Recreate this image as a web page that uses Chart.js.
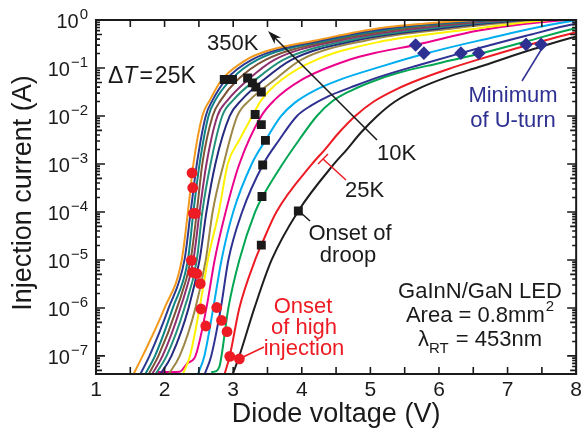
<!DOCTYPE html>
<html>
<head>
<meta charset="utf-8">
<script src="https://cdn.jsdelivr.net/npm/chart.js@4.4.1/dist/chart.umd.min.js"></script>
<style>
  html, body { margin: 0; padding: 0; background: #fff; }
</style>
</head>
<body>
<canvas id="myChart" width="586" height="436"></canvas>
<script>
// temperatures, hot to cold (left to right on the plot)
const temps = ["350K", "325K", "300K", "275K", "250K", "225K", "200K", "175K",
  "150K", "125K", "100K", "75K", "50K", "25K", "10K"];

// [voltage (V), current (A)]
const k350 = [[1.54,4e-8],[1.68,1e-7],[2.00,1e-6],[2.25,1e-5],[2.34,1e-4],[2.42,1e-3],[2.55,0.01],[2.66,0.0214],[2.83,0.056],[3.19,0.148],[3.48,0.224],[4.22,0.38],[5.12,0.676],[6.00,0.89],[6.58,1.0],[8.3,1.15]];
const k325 = [[1.64,4e-8],[1.78,1e-7],[2.06,1e-6],[2.29,1e-5],[2.38,1e-4],[2.47,1e-3],[2.60,0.01],[2.70,0.0214],[2.89,0.056],[3.27,0.148],[4.30,0.38],[5.25,0.676],[6.69,1.0],[8.3,1.15]];
const k300 = [[1.71,4e-8],[1.86,1e-7],[2.12,1e-6],[2.34,1e-5],[2.42,1e-4],[2.51,1e-3],[2.64,0.01],[2.74,0.0214],[2.96,0.056],[3.35,0.148],[4.37,0.38],[5.39,0.676],[6.79,1.0],[8.3,1.15]];
const k275 = [[1.76,4e-8],[1.91,1e-7],[2.18,1e-6],[2.38,1e-5],[2.47,1e-4],[2.55,1e-3],[2.70,0.01],[2.82,0.0214],[3.06,0.056],[3.47,0.148],[4.47,0.38],[5.53,0.676],[6.90,1.0],[8.3,1.15]];
const k250 = [[1.81,4e-8],[1.97,1e-7],[2.23,1e-6],[2.42,1e-5],[2.51,1e-4],[2.61,1e-3],[2.77,0.01],[2.92,0.0214],[3.21,0.056],[3.60,0.148],[4.57,0.38],[5.71,0.676],[7.01,1.0],[8.3,1.15]];
const k225 = [[1.86,4e-8],[2.03,1e-7],[2.29,1e-6],[2.47,1e-5],[2.55,1e-4],[2.67,1e-3],[2.84,0.01],[3.00,0.0214],[3.32,0.056],[3.73,0.148],[4.69,0.38],[5.88,0.676],[7.13,1.0],[8.3,1.15]];
const k200 = [[1.93,4e-8],[2.10,1e-7],[2.35,1e-6],[2.51,1e-5],[2.61,1e-4],[2.74,1e-3],[2.95,0.01],[3.12,0.0214],[3.44,0.056],[3.85,0.148],[4.80,0.38],[6.04,0.676],[7.24,1.0],[8.3,1.15]];
const k175 = [[2.05,4e-8],[2.22,1e-7],[2.45,1e-6],[2.60,1e-5],[2.70,1e-4],[2.86,1e-3],[3.06,0.01],[3.24,0.0214],[3.60,0.056],[3.99,0.148],[4.95,0.38],[6.23,0.676],[7.39,1.0],[8.3,1.15]];
const k150 = [[2.26,4e-8],[2.37,1e-7],[2.51,1e-6],[2.63,1e-5],[2.79,1e-4],[2.92,1e-3],[3.09,3.16e-3],[3.29,0.0107],[3.41,0.0214],[3.70,0.056],[4.21,0.148],[5.12,0.347],[6.43,0.631],[7.62,1.0],[8.3,1.08]];
const k125 = [[1.89,4.6e-8],[2.22,4.7e-8],[2.33,7e-8],[2.45,1e-7],[2.61,1e-6],[2.73,1e-5],[2.89,1e-4],[3.09,1e-3],[3.41,0.01],[3.60,0.0214],[3.99,0.056],[4.69,0.148],[5.12,0.214],[5.66,0.302],[6.58,0.603],[7.85,1.0],[8.3,1.04]];
const k100 = [[2.48,4e-8],[2.58,1e-7],[2.71,1e-6],[2.83,1e-5],[3.00,1e-4],[3.27,1e-3],[3.47,3.1e-3],[3.70,0.01],[3.90,0.019],[4.17,0.0331],[4.54,0.056],[5.20,0.112],[5.78,0.195],[6.58,0.372],[7.99,0.977],[8.3,1.04]];
const k75 = [[2.58,4e-8],[2.68,1e-7],[2.82,1e-6],[2.93,1e-5],[3.13,1e-4],[3.44,1e-3],[3.67,3.16e-3],[3.93,0.01],[4.14,0.0166],[4.40,0.0263],[4.72,0.0398],[5.12,0.0646],[5.75,0.12],[6.32,0.204],[7.27,0.468],[7.99,0.832],[8.3,0.95]];
const k50 = [[2.68,4.6e-8],[2.75,4.8e-8],[2.80,6e-8],[2.83,1e-7],[2.93,1e-6],[3.09,1e-5],[3.32,1e-4],[3.43,2.1e-4],[3.72,1e-3],[3.96,3.16e-3],[4.22,0.01],[4.44,0.02],[4.72,0.0339],[5.05,0.0537],[5.41,0.0794],[6.00,0.126],[6.58,0.195],[7.27,0.355],[7.99,0.676],[8.3,0.8]];
const k25 = [[2.87,4e-8],[2.95,1e-7],[3.09,1e-6],[3.32,1e-5],[3.41,2.04e-5],[3.63,1e-4],[4.15,1e-3],[4.33,1.95e-3],[4.54,4.47e-3],[4.78,0.01],[5.05,0.02],[5.37,0.0355],[5.75,0.0603],[6.14,0.0955],[6.58,0.151],[7.30,0.302],[7.99,0.55],[8.3,0.68]];
const k10 = [[2.99,4e-8],[3.09,1e-7],[3.31,1e-6],[3.56,1e-5],[3.95,1.05e-4],[4.47,1e-3],[4.65,1.95e-3],[4.86,4.47e-3],[5.10,0.01],[5.36,0.02],[5.75,0.0398],[6.14,0.066],[6.58,0.105],[7.39,0.251],[7.99,0.447],[8.3,0.55]];

const curves = [k350, k325, k300, k275, k250, k225, k200, k175, k150, k125, k100, k75, k50, k25, k10];
const curveColors = ["#F39A1E", "#2B3990", "#0F8383", "#7E5538", "#8E2F6E", "#23907C", "#262B7E", "#9C8747",
  "#FFF200", "#EC008C", "#00AEEF", "#2E3192", "#00A651", "#ED1C24", "#1E1E1E"];

// onset of droop (black squares)
const droopV = [2.87, 2.93, 2.99, 3.21, 3.28, 3.33, 3.41, 3.32, 3.41, 3.47, 3.43, 3.42, 3.41, 3.95];
const droopI = [0.0575, 0.0575, 0.0575, 0.0617, 0.049, 0.040, 0.0316, 0.0107, 0.0066, 0.0031, 9.5e-4, 2.1e-4, 2.04e-5, 1.05e-4];

// onset of high injection (red dots)
const injV = [2.40, 2.41, 2.42, 2.45, 2.39, 2.41, 2.47, 2.52, 2.53, 2.76, 2.60, 2.83, 2.91, 2.95, 3.09];
const injI = [6.5e-4, 3.2e-4, 9.3e-5, 9.3e-5, 9.8e-6, 5.5e-6, 5.2e-6, 3.2e-6, 9.5e-7, 1.02e-6, 4.2e-7, 5.5e-7, 3.2e-7, 9.8e-8, 8.7e-8];

// minimum of U-turn (blue diamonds)
const uturnV = [5.66, 5.78, 6.32, 6.58, 7.27, 7.49];
const uturnI = [0.302, 0.204, 0.204, 0.204, 0.31, 0.31];

const voltTicks = [1, 2, 3, 4, 5, 6, 7, 8];
const currentDecades = [0, -1, -2, -3, -4, -5, -6, -7];

const FONT = '"Liberation Sans", Arial, Helvetica, sans-serif';
const INK = "#1a1a1a";
const NAVY = "#2E3192";
const RED = "#ED1C24";

function toPoints(xs, ys) {
  return xs.map((x, i) => ({ x: x, y: ys[i] }));
}

function font(size, style) {
  return (style ? style + " " : "") + size + "px " + FONT;
}

function text(ctx, str, x, y, size, color, align) {
  ctx.font = font(size);
  ctx.fillStyle = color;
  ctx.textAlign = align || "left";
  ctx.textBaseline = "alphabetic";
  ctx.fillText(str, x, y);
}

function line(ctx, x1, y1, x2, y2, color, w) {
  ctx.strokeStyle = color;
  ctx.lineWidth = w || 1.5;
  ctx.beginPath();
  ctx.moveTo(x1, y1);
  ctx.lineTo(x2, y2);
  ctx.stroke();
}

const decor = {
  id: "decor",
  afterDraw(chart) {
    const ctx = chart.ctx;
    const a = chart.chartArea;
    const xs = chart.scales.x;
    const ys = chart.scales.y;
    ctx.save();

    // frame
    ctx.strokeStyle = INK;
    ctx.lineWidth = 2;
    ctx.strokeRect(a.left, a.top, a.right - a.left, a.bottom - a.top);

    // inward ticks, x every 0.5 V
    ctx.lineWidth = 1.6;
    ctx.beginPath();
    for (let v = xs.min; v <= xs.max + 1e-9; v += 0.5) {
      const x = xs.getPixelForValue(v);
      ctx.moveTo(x, a.bottom); ctx.lineTo(x, a.bottom - 7);
      ctx.moveTo(x, a.top); ctx.lineTo(x, a.top + 7);
    }
    ctx.stroke();

    // inward ticks, y log
    ctx.beginPath();
    for (let n = -8; n <= 0; n++) {
      for (let m = 1; m <= 9; m++) {
        const val = m * Math.pow(10, n);
        if (val < ys.min || val > ys.max * 1.0001) continue;
        const y = ys.getPixelForValue(val);
        const len = m === 1 ? 9 : (m === 5 ? 6 : 4);
        ctx.moveTo(a.left, y); ctx.lineTo(a.left + len, y);
        ctx.moveTo(a.right, y); ctx.lineTo(a.right - len, y);
      }
    }
    ctx.stroke();

    // y tick labels 10^n
    currentDecades.forEach(n => {
      const y = ys.getPixelForValue(Math.pow(10, n));
      const exp = n === 0 ? "0" : "\u2212" + (-n);
      ctx.font = font(15);
      const ew = ctx.measureText(exp).width;
      ctx.font = font(20);
      const bw = ctx.measureText("10").width;
      const x0 = a.left - 8 - ew - bw - 1;
      text(ctx, "10", x0, y + 8, 20, INK);
      text(ctx, exp, x0 + bw + 1, y - 1, 15, INK);
    });

    // axis titles
    text(ctx, "Diode voltage (V)", (a.left + a.right) / 2, 422, 27, INK, "center");
    ctx.save();
    ctx.translate(31, (a.top + a.bottom) / 2 - 4);
    ctx.rotate(-Math.PI / 2);
    text(ctx, "Injection current (A)", 0, 0, 27, INK, "center");
    ctx.restore();

    // temperature arrow
    const tx = 268, ty = 31, sx = 377, sy = 140;
    line(ctx, sx, sy, tx + 6, ty + 6, INK, 1.6);
    const ang = Math.atan2(ty - sy, tx - sx);
    ctx.fillStyle = INK;
    ctx.beginPath();
    ctx.moveTo(tx, ty);
    ctx.lineTo(tx - 14 * Math.cos(ang) + 4.5 * Math.sin(ang), ty - 14 * Math.sin(ang) - 4.5 * Math.cos(ang));
    ctx.lineTo(tx - 10 * Math.cos(ang), ty - 10 * Math.sin(ang));
    ctx.lineTo(tx - 14 * Math.cos(ang) - 4.5 * Math.sin(ang), ty - 14 * Math.sin(ang) + 4.5 * Math.cos(ang));
    ctx.closePath();
    ctx.fill();

    text(ctx, "350K", 207, 50, 22, INK);
    text(ctx, "10K", 377, 160, 22, INK);
    text(ctx, "25K", 345, 197, 22, INK);
    line(ctx, 323, 159, 346, 180, RED, 1.5);
    line(ctx, 318, 164, 328, 154, RED, 1.5);

    // Delta T = 25K
    let x = 108;
    ctx.font = font(23); ctx.fillStyle = INK; ctx.textAlign = "left";
    ctx.fillText("\u0394", x, 83); x += ctx.measureText("\u0394").width;
    ctx.font = font(23, "italic");
    ctx.fillText("T", x, 83); x += ctx.measureText("T").width + 2;
    ctx.font = font(23);
    ctx.fillText("=", x, 83); x += ctx.measureText("=").width + 2;
    ctx.fillText("25K", x, 83);

    // onset of droop
    text(ctx, "Onset of", 350, 240, 22, INK, "center");
    text(ctx, "droop", 348, 262, 22, INK, "center");
    line(ctx, 300, 212, 310, 221, INK, 1.5);

    // onset of high injection
    text(ctx, "Onset", 303, 313, 22, RED, "center");
    text(ctx, "of high", 304, 334, 22, RED, "center");
    text(ctx, "injection", 304, 355, 22, RED, "center");
    line(ctx, 241, 358, 264, 347, RED, 1.5);

    // minimum of U-turn
    text(ctx, "Minimum", 513, 102, 22, NAVY, "center");
    text(ctx, "of U-turn", 513, 127, 22, NAVY, "center");
    line(ctx, 541, 50, 522, 81, NAVY, 1.5);

    // device info
    const cx = 480;
    text(ctx, "GaInN/GaN LED", cx, 298, 22, INK, "center");
    ctx.font = font(22);
    const wA = ctx.measureText("Area = 0.8mm").width;
    ctx.font = font(15);
    const wS = ctx.measureText("2").width;
    let ax = cx - (wA + wS + 1) / 2;
    text(ctx, "Area = 0.8mm", ax, 322, 22, INK);
    text(ctx, "2", ax + wA + 1, 311, 15, INK);
    ctx.font = font(22);
    const wL = ctx.measureText("\u03bb").width;
    const wE = ctx.measureText(" = 453nm").width;
    ctx.font = font(15);
    const wR = ctx.measureText("RT").width;
    let lx = cx - (wL + wR + wE + 1) / 2;
    text(ctx, "\u03bb", lx, 346, 22, INK);
    text(ctx, "RT", lx + wL, 353, 15, INK);
    text(ctx, " = 453nm", lx + wL + wR + 1, 346, 22, INK);

    ctx.restore();
  }
};

document.addEventListener("DOMContentLoaded", function () {
  const ctx = document.getElementById("myChart").getContext("2d");

  const curveSets = curves.map((pts, i) => ({
    label: temps[i],
    data: pts.map(p => ({ x: p[0], y: p[1] })),
    borderColor: curveColors[i],
    backgroundColor: curveColors[i],
    borderWidth: 2,
    pointRadius: 0,
    fill: false,
    cubicInterpolationMode: "monotone",
    order: 2
  }));

  const markerSets = [
    {
      label: "Onset of droop",
      data: toPoints(droopV, droopI),
      showLine: false,
      pointStyle: "rect",
      pointRadius: 6.3,
      pointBackgroundColor: INK,
      pointBorderWidth: 0,
      order: 0
    },
    {
      label: "Onset of high injection",
      data: toPoints(injV, injI),
      showLine: false,
      pointStyle: "circle",
      pointRadius: 5.4,
      pointBackgroundColor: RED,
      pointBorderWidth: 0,
      order: 0
    },
    {
      label: "Minimum of U-turn",
      data: toPoints(uturnV, uturnI),
      showLine: false,
      pointStyle: "rectRot",
      pointRadius: 6.8,
      pointBackgroundColor: NAVY,
      pointBorderWidth: 0,
      order: 0
    }
  ];

  new Chart(ctx, {
    type: "line",
    data: { datasets: markerSets.concat(curveSets) },
    options: {
      responsive: false,
      animation: false,
      layout: { padding: { top: 20, right: 6, left: 0, bottom: 0 } },
      plugins: { legend: { display: false }, tooltip: { enabled: false } },
      scales: {
        x: {
          type: "linear",
          min: 1,
          max: 8,
          grid: { display: false, drawTicks: false },
          border: { display: false },
          ticks: {
            stepSize: 0.5,
            autoSkip: false,
            maxRotation: 0,
            padding: 4,
            color: INK,
            font: { family: FONT, size: 21 },
            callback: v => (voltTicks.includes(v) ? String(v) : "")
          },
          afterFit: s => { s.height = 62; }
        },
        y: {
          type: "logarithmic",
          min: 4.2e-8,
          max: 1,
          grid: { display: false, drawTicks: false },
          border: { display: false },
          ticks: { display: false },
          afterFit: s => { s.width = 96; }
        }
      }
    },
    plugins: [decor]
  });
});
</script>
</body>
</html>
